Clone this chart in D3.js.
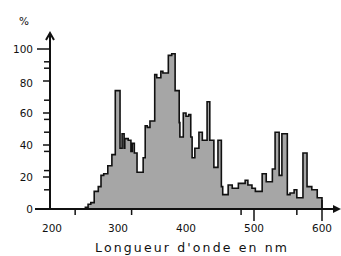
<!DOCTYPE html>
<html><head><meta charset="utf-8">
<script src="https://cdn.jsdelivr.net/npm/d3@7"></script>
<style>body{margin:0;background:#fff}svg{display:block}</style>
</head><body><svg id="c" width="341" height="256"></svg>
<script>
// Spectrum: bin start wavelength (nm) and relative intensity (%)
const binStarts = [252,256,260,265,271,275,279,285,291,296,303,306,309,310,315,319,321,324,328,337,340,343,347,354,357,363,366,374,379,384,390,391,396,400,404,407,409,413,419,424,431,435,441,447,452,454,462,468,477,487,491,497,502,512,518,527,531,537,541,549,553,559,563,572,578,585,593];
const binValues = [1,3,4,11,14,21,22,27,34,74,38,47,38,44,43,36,41,35,23,32,52,51,55,84,82,86,85,96,97,74,54,45,60,58,59,45,32,38,48,43,67,43,26,43,14,9,15,13,16,18,15,13,11,22,17,25,48,21,47,9,10,12,7,35,14,12,7];
const spectrumEnd = 600;
const yTickValues = [0,20,40,60,80,100];
const yMinorTicks = [92,88,68,56,48,36,24,12];
const xTickValues = [200,300,400,500,600];
const xMinorTicks = [237,320,481,563];
const xLongTicks = [500,600];
const yLabel = "%";
const xLabel = "Longueur d'onde en nm";

const svg = d3.select("#c");
const x = d3.scaleLinear().domain([200,600]).range([50,322]);
const y = d3.scaleLinear().domain([0,100]).range([209,49]);

const pts = binStarts.map((s,i)=>({x:s,v:binValues[i]}));
pts.unshift({x:binStarts[0],v:0});
pts.push({x:spectrumEnd,v:binValues[binValues.length-1]});
pts.push({x:spectrumEnd,v:0});

const area = d3.area().curve(d3.curveStepAfter)
  .x(d=>x(d.x)).y0(y(0)).y1(d=>y(d.v));
const line = d3.line().curve(d3.curveStepAfter)
  .x(d=>x(d.x)).y(d=>y(d.v));

svg.append("path").datum(pts).attr("d",area).attr("fill","#a6a6a6");
svg.append("path").datum(pts).attr("d",line).attr("fill","none")
  .attr("stroke","#111").attr("stroke-width",1.6);

const font = "'DejaVu Sans', Verdana, sans-serif";
const axisCol = "#111";
const textCol = "#111";

// y axis
svg.append("line").attr("x1",x(200)).attr("x2",x(200)).attr("y1",y(0)+1).attr("y2",34)
  .attr("stroke",axisCol).attr("stroke-width",2);
svg.append("path").attr("d",`M${x(200)-4},${40} L${x(200)},${33} L${x(200)+4},${40}`)
  .attr("fill","none").attr("stroke",axisCol).attr("stroke-width",2);
// x axis
svg.append("line").attr("x1",35).attr("x2",334).attr("y1",y(0)).attr("y2",y(0))
  .attr("stroke",axisCol).attr("stroke-width",2);
svg.append("path").attr("d",`M333,${y(0)-4} L341,${y(0)} L333,${y(0)+4} Z`).attr("fill",axisCol);

// y ticks
svg.selectAll(".yt").data(yTickValues.filter(d=>d>0)).enter().append("line")
  .attr("x1",d=>d===100?37:43).attr("x2",x(200)).attr("y1",d=>y(d)).attr("y2",d=>y(d))
  .attr("stroke",axisCol).attr("stroke-width",1.5);
svg.selectAll(".ym").data(yMinorTicks).enter().append("line")
  .attr("x1",44).attr("x2",x(200)).attr("y1",d=>y(d)).attr("y2",d=>y(d))
  .attr("stroke",axisCol).attr("stroke-width",1.5);
svg.selectAll(".yl").data(yTickValues).enter().append("text")
  .attr("x",33).attr("y",d=>y(d)+(d===80?2:0)).attr("dy","0.35em").attr("text-anchor","end")
  .attr("font-family",font).attr("font-size",10.5).attr("fill",textCol).text(d=>d);
svg.append("text").attr("x",24).attr("y",21).attr("dy","0.35em").attr("text-anchor","middle")
  .attr("font-family",font).attr("font-size",10.5).attr("fill",textCol).text(yLabel);

// x ticks
svg.selectAll(".xm").data(xMinorTicks).enter().append("line")
  .attr("x1",d=>x(d)).attr("x2",d=>x(d)).attr("y1",y(0)).attr("y2",y(0)+6)
  .attr("stroke",axisCol).attr("stroke-width",1.5);
svg.selectAll(".xlg").data(xLongTicks).enter().append("line")
  .attr("x1",d=>x(d)).attr("x2",d=>x(d)).attr("y1",d=>d===600?y(0)-9:y(0)).attr("y2",y(0)+12)
  .attr("stroke",axisCol).attr("stroke-width",1.5);
svg.selectAll(".xl").data(xTickValues).enter().append("text")
  .attr("x",d=>x(d)+(d===200?2:0)).attr("y",228).attr("dy","0.35em").attr("text-anchor","middle")
  .attr("font-family",font).attr("font-size",10.5).attr("fill",textCol).text(d=>d);
svg.append("text").attr("x",191).attr("y",248).attr("dy","0.35em").attr("text-anchor","middle")
  .attr("font-family",font).attr("font-size",12.5).attr("fill",textCol)
  .attr("textLength",192).attr("lengthAdjust","spacing").text(xLabel);
</script></body></html>
